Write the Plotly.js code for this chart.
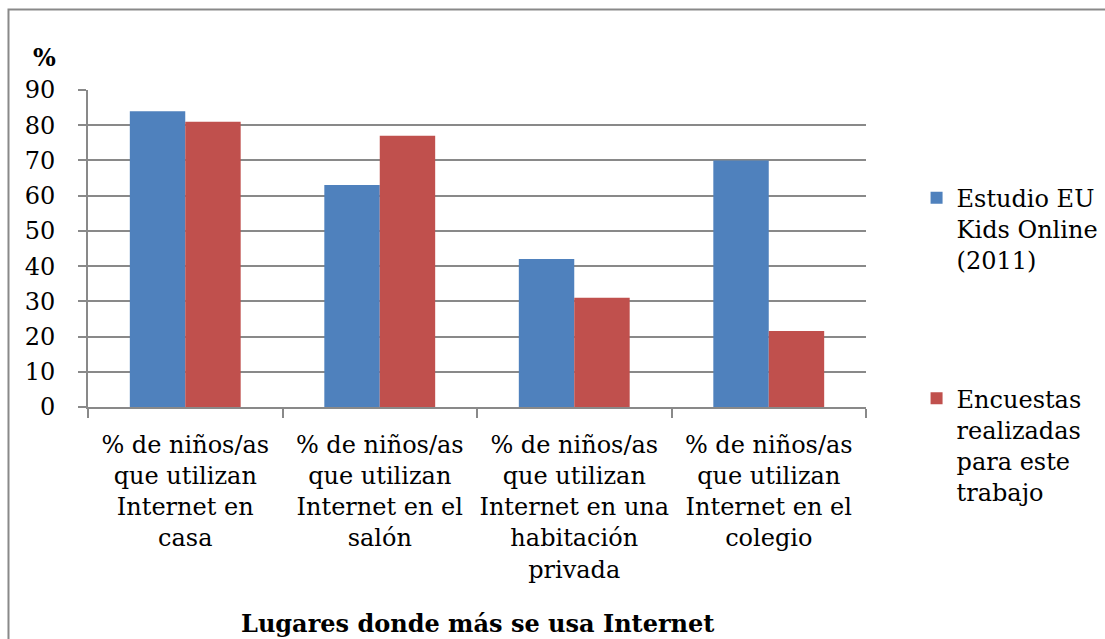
<!DOCTYPE html>
<html>
<head>
<meta charset="utf-8">
<script src="https://cdn.plot.ly/plotly-3.0.1.min.js"></script>
<style>
html,body{margin:0;padding:0;background:#fff;}
#chart{width:1105px;height:639px;}
</style>
</head>
<body>
<div id="chart"></div>
<script>
const categories = [
  "% de niños/as<br>que utilizan<br>Internet en<br>casa",
  "% de niños/as<br>que utilizan<br>Internet en el<br>salón",
  "% de niños/as<br>que utilizan<br>Internet en una<br>habitación<br>privada",
  "% de niños/as<br>que utilizan<br>Internet en el<br>colegio"
];
const seriesNames = ["Estudio EU<br>Kids Online<br>(2011)", "Encuestas<br>realizadas<br>para este<br>trabajo"];
const euKidsOnline = [84, 63, 42, 70];
const encuestas = [81, 77, 31, 21.6];
const yTicks = [0, 10, 20, 30, 40, 50, 60, 70, 80, 90];

const FONT = "DejaVu Serif";
const GRID = "#898989";

const traces = [
  {type: "bar", x: categories, y: euKidsOnline, name: seriesNames[0], legendgroup: "a",
   marker: {color: "#4F81BD"}},
  {type: "bar", x: categories, y: encuestas, name: seriesNames[1], legendgroup: "b",
   marker: {color: "#C0504D"}}
];

const layout = {
  width: 1105, height: 639,
  margin: {l: 88, r: 239, t: 90, b: 232, pad: 0, autoexpand: false},
  paper_bgcolor: "#fff", plot_bgcolor: "#fff",
  font: {family: FONT, size: 24, color: "#000"},
  barmode: "group", bargap: 0.43, bargroupgap: 0,
  xaxis: {
    type: "category", showgrid: false, showline: true, linecolor: GRID, linewidth: 2,
    ticks: "outside", tickson: "boundaries", ticklen: 9, tickwidth: 2, tickcolor: GRID,
    tickangle: 0, ticklabelstandoff: 15,
    tickfont: {family: FONT, size: 24}, automargin: false, fixedrange: true
  },
  yaxis: {
    range: [0, 90], tickvals: yTicks, ticktext: yTicks.map(String),
    showgrid: true, gridcolor: GRID, gridwidth: 2, zeroline: false,
    showline: true, linecolor: GRID, linewidth: 2,
    ticks: "outside", ticklen: 8, tickwidth: 2, tickcolor: GRID,
    ticklabelstandoff: 18,
    tickfont: {family: FONT, size: 24}, automargin: false, fixedrange: true
  },
  legend: {
    x: 1.065, xanchor: "left", y: 0.73, yanchor: "top",
    traceorder: "grouped", tracegroupgap: 104, valign: "top",
    maxheight: 639,
    font: {family: FONT, size: 24}, bgcolor: "rgba(0,0,0,0)"
  },
  annotations: [
    {text: "<b>%</b>", xref: "paper", yref: "paper", x: -0.056, y: 1.104,
     xanchor: "center", yanchor: "middle", showarrow: false,
     font: {family: FONT, size: 24}},
    {text: "<b>Lugares donde más se usa Internet</b>", xref: "paper", yref: "paper",
     x: 0.5, y: -0.682, xanchor: "center", yanchor: "middle", showarrow: false,
     font: {family: FONT, size: 24}}
  ],
  shapes: [
    {type: "rect", xref: "paper", yref: "paper",
     x0: -0.1022, x1: 1.35, y0: -0.8, y1: 1.2539,
     line: {color: GRID, width: 2}, fillcolor: "rgba(0,0,0,0)", layer: "below"}
  ]
};

Plotly.newPlot("chart", traces, layout, {displayModeBar: false, staticPlot: true});
</script>
</body>
</html>
